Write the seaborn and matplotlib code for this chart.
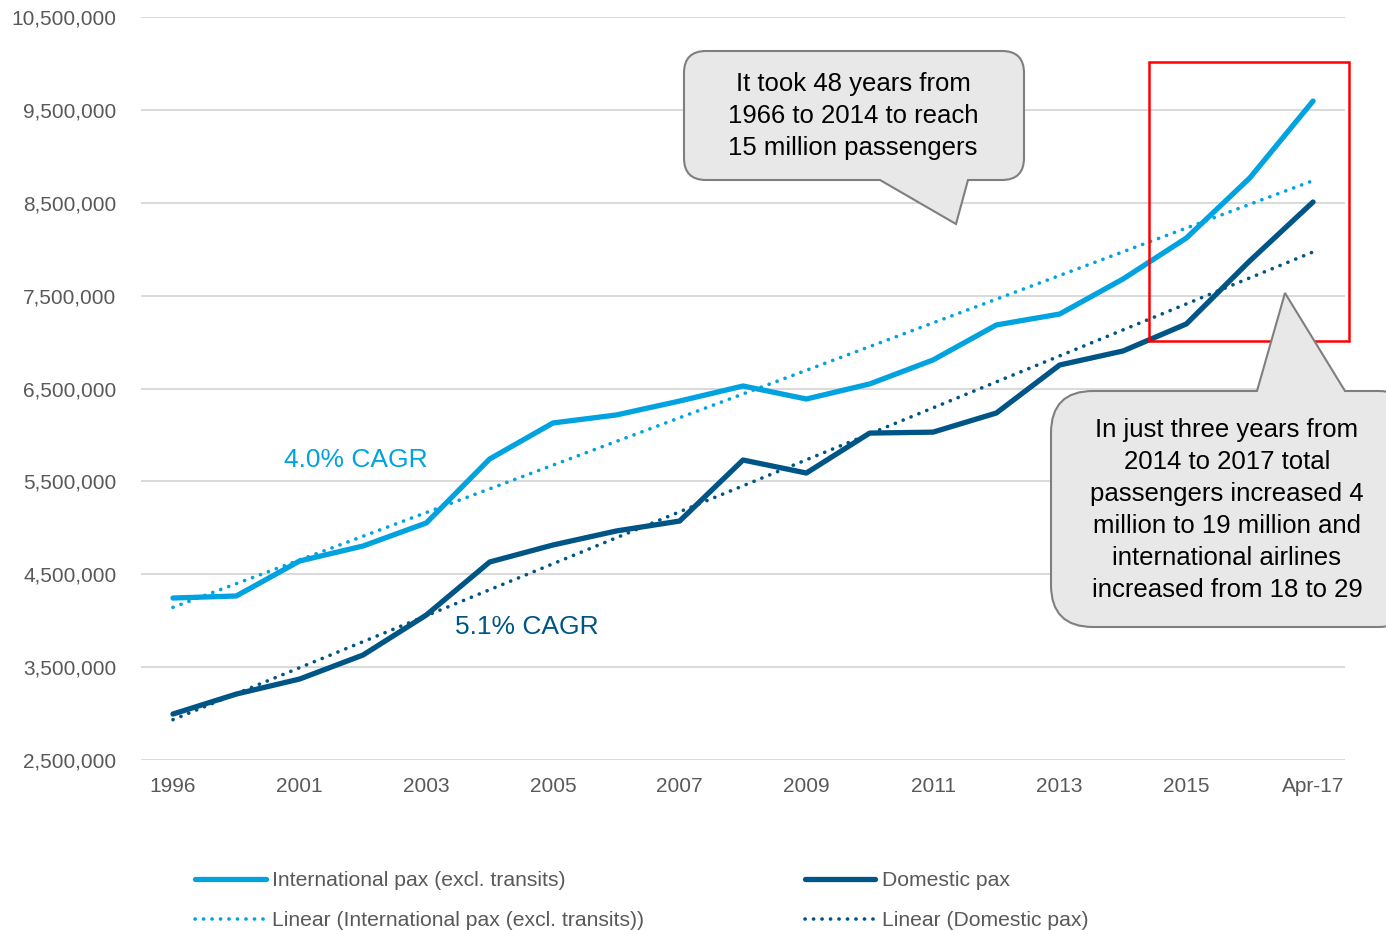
import numpy as np
import pandas as pd
import seaborn as sns
import matplotlib
matplotlib.use("Agg")
import matplotlib.pyplot as plt
import matplotlib.transforms as mtransforms
from matplotlib.path import Path
from matplotlib.patches import PathPatch, Rectangle
from matplotlib.lines import Line2D
from matplotlib.ticker import FuncFormatter

# Passenger numbers per period
periods = ["1996", "2000", "2001", "2002", "2003", "2004", "2005", "2006", "2007",
           "2008", "2009", "2010", "2011", "2012", "2013", "2014", "2015", "2016", "Apr-17"]
international = [4244000, 4266000, 4643000, 4804000, 5052000, 5741000, 6129000, 6215000,
                 6365000, 6527000, 6387000, 6549000, 6807000, 7184000, 7302000, 7679000,
                 8120000, 8766000, 9595000]
domestic = [2995000, 3210000, 3372000, 3630000, 4061000, 4632000, 4815000, 4966000,
            5073000, 5730000, 5590000, 6020000, 6030000, 6236000, 6753000, 6904000,
            7195000, 7873000, 8508000]
series_names = ["International pax (excl. transits)", "Domestic pax"]
cagr_labels = ["4.0% CAGR", "5.1% CAGR"]

LIGHT = "#00A3E0"
DARK = "#005587"
GREY_TXT = "#595959"

W, H = 1386, 930
sns.set_theme(style="white")
plt.rcParams["font.family"] = ["Liberation Sans", "DejaVu Sans"]

fig = plt.figure(figsize=(W / 100, H / 100), dpi=100)
ax = fig.add_axes([141.3 / W, 1 - 760 / H, (1344.7 - 141.3) / W, (760 - 17) / H])

idx = np.arange(len(periods))
df = pd.DataFrame({
    "idx": np.concatenate([idx, idx]),
    "value": international + domestic,
    "series": [series_names[0]] * len(idx) + [series_names[1]] * len(idx),
})

# Linear trendlines fitted on the period index
trend_rows = []
for name, vals in zip(series_names, [international, domestic]):
    slope, icpt = np.polyfit(idx, vals, 1)
    for i in idx:
        trend_rows.append({"idx": i, "value": slope * i + icpt, "series": name})
trend = pd.DataFrame(trend_rows)

palette = {series_names[0]: LIGHT, series_names[1]: DARK}
DOTS = (0, (0.05, 2.3))

sns.lineplot(data=trend, x="idx", y="value", hue="series", palette=palette,
             linewidth=2.6, linestyle=DOTS, dash_capstyle="round",
             legend=False, ax=ax, zorder=3)
sns.lineplot(data=df, x="idx", y="value", hue="series", palette=palette,
             linewidth=3.8, legend=False, ax=ax, zorder=4)
for ln in ax.lines[:2]:
    ln.set_dash_capstyle("round")

ax.set_xlim(-0.5, len(periods) - 0.5)
ax.set_ylim(2500000, 10500000)
ax.set_yticks(np.arange(2500000, 10500001, 1000000))
ax.yaxis.set_major_formatter(FuncFormatter(lambda v, p: f"{int(v):,}"))
ax.set_xticks(idx[::2])
ax.set_xticklabels([periods[i] for i in idx[::2]])
ax.set_xlabel("")
ax.set_ylabel("")
ax.grid(axis="y", color="#D9D9D9", linewidth=1.4)
ax.grid(axis="x", visible=False)
for s in ax.spines.values():
    s.set_visible(False)
ax.tick_params(axis="y", length=0, pad=18, labelsize=15, labelcolor=GREY_TXT)
ax.tick_params(axis="x", length=0, pad=12, labelsize=15, labelcolor=GREY_TXT)

px = mtransforms.Affine2D().scale(1 / W, -1 / H).translate(0, 1) + fig.transFigure


def callout(x0, y0, x1, y1, r, top_ptr=None, bottom_ptr=None):
    verts, codes = [], []

    def mv(p):
        verts.append(p); codes.append(Path.MOVETO)

    def ln(p):
        verts.append(p); codes.append(Path.LINETO)

    def cv(c, p):
        verts.extend([c, p]); codes.extend([Path.CURVE3, Path.CURVE3])

    mv((x0 + r, y0))
    if top_ptr:
        for p in top_ptr:
            ln(p)
    ln((x1 - r, y0))
    cv((x1, y0), (x1, y0 + r))
    ln((x1, y1 - r))
    cv((x1, y1), (x1 - r, y1))
    if bottom_ptr:
        for p in bottom_ptr:
            ln(p)
    ln((x0 + r, y1))
    cv((x0, y1), (x0, y1 - r))
    ln((x0, y0 + r))
    cv((x0, y0), (x0 + r, y0))
    verts.append((x0 + r, y0)); codes.append(Path.CLOSEPOLY)
    return PathPatch(Path(verts, codes), transform=px, facecolor="#E8E8E8",
                     edgecolor="#7F7F7F", linewidth=1.5, zorder=6, clip_on=False)


fig.patches.append(callout(684, 51, 1024, 180, 22,
                           bottom_ptr=[(968, 180), (956, 224), (880, 180)]))
fig.patches.append(callout(1051, 391, 1420, 627, 42,
                           top_ptr=[(1257, 391), (1285, 293), (1345, 391)]))

fig.text(853, 116, "It took 48 years from\n1966 to 2014 to reach\n15 million passengers",
         transform=px, ha="center", va="center", fontsize=18.5, color="black",
         linespacing=1.42, zorder=7)
fig.text(1227, 510, "In just three years from\n2014 to 2017 total\npassengers increased 4\n"
         "million to 19 million and\ninternational airlines\nincreased from 18 to 29",
         transform=px, ha="center", va="center", fontsize=18.5, color="black",
         linespacing=1.42, zorder=7)

fig.patches.append(Rectangle((1149, 62), 200, 279, transform=px, fill=False,
                             edgecolor="#FF0000", linewidth=1.8, zorder=5))

fig.text(284, 460, cagr_labels[0], transform=px, ha="left", va="center",
         fontsize=19, color=LIGHT)
fig.text(455, 627, cagr_labels[1], transform=px, ha="left", va="center",
         fontsize=19, color=DARK)

handles = [
    Line2D([], [], color=LIGHT, linewidth=3.8),
    Line2D([], [], color=LIGHT, linewidth=2.6, linestyle=DOTS, dash_capstyle="round"),
    Line2D([], [], color=DARK, linewidth=3.8),
    Line2D([], [], color=DARK, linewidth=2.6, linestyle=DOTS, dash_capstyle="round"),
]
labels = [series_names[0], "Linear (International pax (excl. transits))",
          series_names[1], "Linear (Domestic pax)"]
fig.legend(handles, labels, ncol=2, loc="upper left",
           bbox_to_anchor=(195 / W, 1 - 871 / H), frameon=False, borderpad=0,
           borderaxespad=0, fontsize=15.2, labelcolor=GREY_TXT, handlelength=3.35,
           handletextpad=0.3, columnspacing=7.6, labelspacing=1.0)

fig.savefig("out.png", dpi=100)
